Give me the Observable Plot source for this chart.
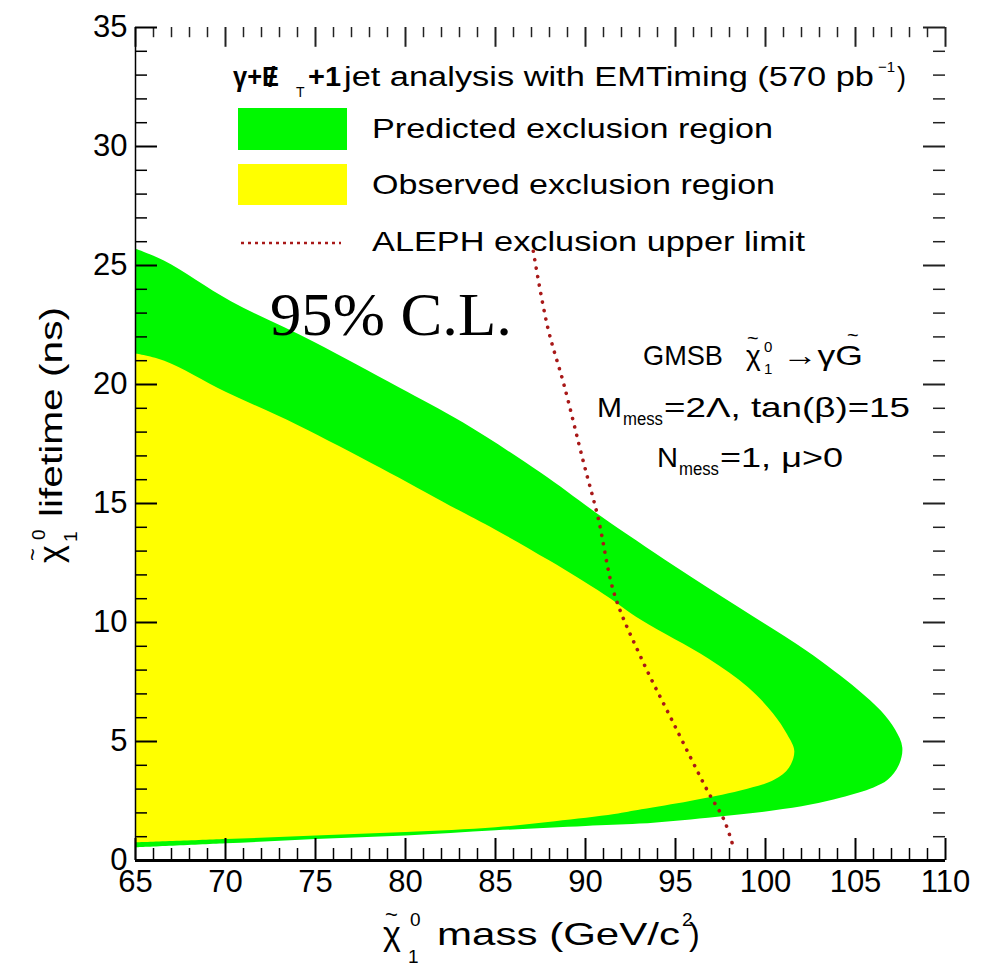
<!DOCTYPE html>
<html><head><meta charset="utf-8">
<script src="https://cdn.jsdelivr.net/npm/d3@7"></script>
<script src="https://cdn.jsdelivr.net/npm/@observablehq/plot@0.6"></script>
<style>
body{margin:0;background:#fff}
#chart{position:relative;width:985px;height:968px}
</style>
</head><body><div id="chart"></div>
<script>
// ---- data ----
// Predicted exclusion region (outline: bottom edge left->right, around the tip, top edge right->left)
const predictedMass     = [65,70,75,80,85,90,93,96.8,100.4,102.5,104.2,106,106.8,107.4,107.6,107.2,106.4,105.1,102.3,98.6,94.9,90.8,87.5,83.2,79.6,74.9,70.3,66.6,65];
const predictedLifetime = [0.55,0.72,0.9,1.05,1.27,1.45,1.55,1.8,2.1,2.35,2.65,3.07,3.4,4.0,4.75,5.5,6.3,7.2,8.8,10.6,12.4,14.5,16.3,18.4,19.9,21.8,23.5,25.2,25.7];
// Observed exclusion region
const observedMass      = [65,70,75,80,85,88.3,91.6,93.1,95.8,98.6,100.5,101.3,101.6,101.2,100.4,99.0,96.8,93.1,91,88,85,82.5,78.6,74,70,66.6,65];
const observedLifetime  = [0.76,0.9,1.05,1.2,1.4,1.65,1.95,2.15,2.5,2.94,3.4,3.9,4.6,5.3,6.2,7.3,8.5,10.1,11.2,12.6,13.9,14.9,16.5,18.3,19.7,21.0,21.3];
// ALEPH exclusion upper limit
const alephMass         = [87.1,87.9,88.8,89.9,90.7,91.6,93.1,94.9,96.8,97.7,98.2];
const alephLifetime     = [25.6,22.4,20.0,16.7,14.4,11.2,8.5,5.75,2.9,1.7,0.6];
// axes
const xTickLabels = [65,70,75,80,85,90,95,100,105,110];
const yTickLabels = [0,5,10,15,20,25,30,35];
const xMinorTicks = [66,67,68,69,71,72,73,74,76,77,78,79,81,82,83,84,86,87,88,89,91,92,93,94,96,97,98,99,101,102,103,104,106,107,108,109];
const yMinorTicks = [1,2,3,4,6,7,8,9,11,12,13,14,16,17,18,19,21,22,23,24,26,27,28,29,31,32,33,34];

const predicted = predictedMass.map((m,i)=>({m, t: predictedLifetime[i]}));
const observed  = observedMass.map((m,i)=>({m, t: observedLifetime[i]}));
const aleph     = alephMass.map((m,i)=>({m, t: alephLifetime[i]}));

const GREEN = "#00f800", YELLOW = "#ffff00", RED = "#a81818";
const xMin = 65, xMax = 110, yMin = 0, yMax = 35;
// tick lengths in data units (x: 18 px/unit, y: 23.8 px/unit)
const tMinX = 12/18, tMajX = 22/18, tMinY = 12/23.8, tMajY = 22/23.8;

const plot = Plot.plot({
  width: 985, height: 968,
  marginLeft: 135, marginRight: 40, marginTop: 27, marginBottom: 108,
  x: {domain: [xMin, xMax]},
  y: {domain: [yMin, yMax]},
  style: {fontFamily: "'Liberation Sans', Arial, sans-serif", fontSize: "31px", color: "#000", background: "#fff"},
  marks: [
    Plot.line(predicted, {x: "m", y: "t", fill: GREEN, stroke: "none", curve: "catmull-rom"}),
    Plot.line(observed,  {x: "m", y: "t", fill: YELLOW, stroke: "none", curve: "catmull-rom"}),
    Plot.line(aleph, {x: "m", y: "t", stroke: RED, strokeWidth: 3.6, strokeDasharray: "0.1,8.5", strokeLinecap: "round", curve: "catmull-rom"}),
    // bottom ticks (inward)
    Plot.ruleX(xMinorTicks, {x: d => d, y1: yMin, y2: yMin + tMinY, stroke: "#000", strokeWidth: 1.5}),
    Plot.ruleX(xTickLabels, {x: d => d, y1: yMin, y2: yMin + tMajY, stroke: "#000", strokeWidth: 2}),
    // top ticks
    Plot.ruleX(xMinorTicks, {x: d => d, y1: yMax, y2: yMax - tMinY*0.85, stroke: "#222", strokeWidth: 1.5}),
    Plot.ruleX(xTickLabels, {x: d => d, y1: yMax, y2: yMax - tMajY*0.9, stroke: "#222", strokeWidth: 2}),
    // left ticks
    Plot.ruleY(yMinorTicks, {y: d => d, x1: xMin, x2: xMin + tMinX, stroke: "#000", strokeWidth: 1.5}),
    Plot.ruleY(yTickLabels, {y: d => d, x1: xMin, x2: xMin + tMajX, stroke: "#000", strokeWidth: 2}),
    // right ticks
    Plot.ruleY(yMinorTicks, {y: d => d, x1: xMax, x2: xMax - tMinX, stroke: "#222", strokeWidth: 1.5}),
    Plot.ruleY(yTickLabels, {y: d => d, x1: xMax, x2: xMax - tMajX, stroke: "#222", strokeWidth: 2}),
    // frame lines
    Plot.ruleX([xMin], {y1: yMin, y2: yMax, stroke: "#000", strokeWidth: 1.5}),
    Plot.ruleY([yMin], {x1: xMin, x2: xMax, stroke: "#000", strokeWidth: 3}),
    Plot.axisX(xTickLabels, {tickSize: 0, tickPadding: 9, label: null, fontSize: 31}),
    Plot.axisY(yTickLabels, {tickSize: 0, tickPadding: 8, label: null, fontSize: 31})
  ]
});

document.getElementById("chart").appendChild(plot);

// ---- legend & annotations ----
const svg = d3.select(plot);
const g = svg.append("g").attr("font-family", "'Liberation Sans', Arial, sans-serif")
  .attr("fill", "#000").attr("text-anchor", "start");
function txt(x, y, size, s, opts = {}) {
  const t = g.append("text").attr("x", x).attr("y", y).attr("font-size", size).text(s);
  if (opts.len) t.attr("textLength", opts.len).attr("lengthAdjust", "spacingAndGlyphs");
  if (opts.bold) t.attr("font-weight", "bold");
  if (opts.family) t.attr("font-family", opts.family);
  return t;
}

// header: γ+E̸T +1jet analysis with EMTiming (570 pb-1)
txt(233, 86, 27, "γ+E", {bold: true, len: 46});
txt(268, 86, 27, "/", {bold: true});
txt(296, 97, 14, "T");
txt(308, 86, 27, "+1", {bold: true, len: 33});
txt(344, 86, 27, "jet analysis with EMTiming (570 pb", {len: 530});
txt(878, 72, 15, "−1");
txt(897, 86, 27, ")");

// swatches
g.append("rect").attr("x", 238).attr("y", 108).attr("width", 109).attr("height", 42).attr("fill", GREEN);
g.append("rect").attr("x", 238).attr("y", 164).attr("width", 109).attr("height", 41).attr("fill", YELLOW);
g.append("line").attr("x1", 241).attr("x2", 341).attr("y1", 243).attr("y2", 243)
  .attr("stroke", RED).attr("stroke-width", 2.5).attr("stroke-dasharray", "3,4");

const legendLabels = [
  {text: "Predicted exclusion region", y: 138, len: 401},
  {text: "Observed exclusion region", y: 194, len: 403},
  {text: "ALEPH exclusion upper limit", y: 251, len: 433}
];
legendLabels.forEach(l => txt(372, l.y, 28, l.text, {len: l.len}));

// 95% C.L.
txt(270, 335, 62, "95% C.L.", {len: 242, family: "'Liberation Serif', 'Times New Roman', serif"});

// model text line 1: GMSB χ̃₁⁰→γG̃
txt(643, 365, 28, "GMSB", {len: 80});
txt(746, 365, 28, "χ");
txt(747, 345, 20, "~");
txt(764, 352, 15, "0");
txt(764, 374, 15, "1");
txt(782, 365, 28, "→γG", {len: 81});
txt(847, 342, 20, "~");
// line 2
txt(597, 417, 28, "M", {len: 25});
txt(623, 425, 18, "mess", {len: 40});
txt(664, 417, 28, "=2Λ, tan(β)=15", {len: 246});
// line 3
txt(657, 467, 28, "N", {len: 21});
txt(679, 475, 18, "mess", {len: 40});
txt(720, 467, 28, "=1, μ>0", {len: 123});

// x axis title: χ̃₁⁰ mass (GeV/c²)
txt(383, 945, 34, "χ");
txt(385, 922, 22, "~");
txt(410, 926, 19, "0");
txt(408, 963, 19, "1");
txt(437, 945, 32, "mass (GeV/c", {len: 243});
txt(682, 926, 19, "2");
txt(689, 945, 32, ")");

// y axis title (rotated): χ̃₁⁰ lifetime (ns)
const gy = g.append("g").attr("transform", "translate(62,563) rotate(-90)");
function ty(x, y, size, s, len) {
  const t = gy.append("text").attr("x", x).attr("y", y).attr("font-size", size).text(s);
  if (len) t.attr("textLength", len).attr("lengthAdjust", "spacingAndGlyphs");
}
ty(0, 0, 34, "χ");
ty(2, -22, 22, "~");
ty(23, -17, 19, "0");
ty(21, 15, 19, "1");
ty(46, 0, 32, "lifetime (ns)", 210);
</script>
</body></html>
